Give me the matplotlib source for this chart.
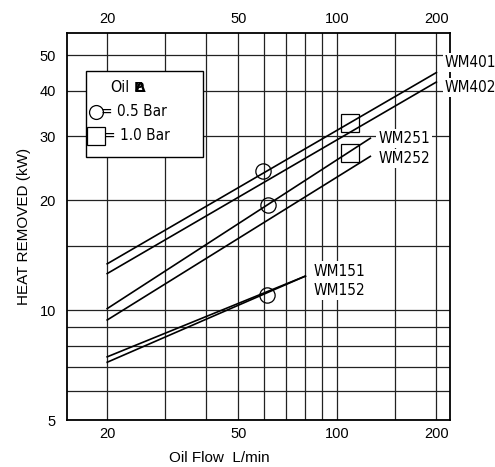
import matplotlib
matplotlib.use("Agg")
import matplotlib.pyplot as plt
from matplotlib import font_manager
from matplotlib.ticker import FixedLocator, NullFormatter, FixedFormatter

plt.rcParams["font.family"] = ["Liberation Sans", "DejaVu Sans"]

# the original uses a condensed grotesque; take a narrow face if one exists
_fonts = font_manager.fontManager.ttflist
if any(f.name == "Liberation Sans Narrow" for f in _fonts):
    NARROW = dict(family=["Liberation Sans Narrow", "DejaVu Sans"], stretch="normal")
elif any(f.name == "DejaVu Sans" and f.stretch == "condensed" for f in _fonts):
    NARROW = dict(family=["DejaVu Sans"], stretch="condensed")
else:
    NARROW = dict(family=["Liberation Sans", "DejaVu Sans"], stretch="normal")

# Oil flow (L/min) vs heat removed (kW)
models = ["WM401", "WM402", "WM251", "WM252", "WM151", "WM152"]
flow = {
    "WM401": [20, 200],
    "WM402": [20, 200],
    "WM251": [20, 126],
    "WM252": [20, 126],
    "WM151": [20, 80],
    "WM152": [20, 80],
}
heat = {
    "WM401": [13.4, 44.8],
    "WM402": [12.6, 42.2],
    "WM251": [10.1, 29.6],
    "WM252": [9.4, 26.4],
    "WM151": [7.45, 12.4],
    "WM152": [7.2, 12.4],
}

# pressure drop markers
flow_05bar = [59.6, 61.8, 61.1]
heat_05bar = [24.1, 19.4, 11.0]
flow_10bar = [109, 109]
heat_10bar = [32.5, 27.0]

x_grid = [20, 30, 40, 50, 60, 70, 80, 90, 100, 150, 200]
x_labels = [20, 50, 100, 200]
y_grid = [5, 6, 7, 8, 9, 10, 15, 20, 30, 40, 50]
y_labels = [5, 10, 20, 30, 40, 50]

fig = plt.figure(figsize=(4.95, 4.67), dpi=100)
ax = fig.add_axes([0.1354, 0.1006, 0.9091 - 0.1354, 0.9293 - 0.1006])
ax.set_xscale("log")
ax.set_yscale("log")
ax.set_xlim(15.1, 220)
ax.set_ylim(5, 57.5)

ax.xaxis.set_major_locator(FixedLocator(x_labels))
ax.xaxis.set_major_formatter(FixedFormatter([str(v) for v in x_labels]))
ax.xaxis.set_minor_locator(FixedLocator(x_grid))
ax.xaxis.set_minor_formatter(NullFormatter())
ax.yaxis.set_major_locator(FixedLocator(y_labels))
ax.yaxis.set_major_formatter(FixedFormatter([str(v) for v in y_labels]))
ax.yaxis.set_minor_locator(FixedLocator(y_grid))
ax.yaxis.set_minor_formatter(NullFormatter())
ax.tick_params(which="both", length=0, labelsize=10.5, top=True, labeltop=True)
ax.tick_params(axis="x", pad=5)
ax.tick_params(axis="y", pad=8)
ax.grid(True, which="both", color="#222222", lw=0.9)
for s in ax.spines.values():
    s.set_linewidth(1.3)

for m in models:
    ax.plot(flow[m], heat[m], color="black", lw=1.2, zorder=3)

ax.plot(flow_05bar, heat_05bar, ls="none", marker="o", ms=11, mfc="none",
        mec="black", mew=0.9, zorder=4)
ax.plot(flow_10bar, heat_10bar, ls="none", marker="s", ms=13, mfc="none",
        mec="black", mew=0.9, zorder=4)

box = dict(facecolor="white", edgecolor="none", pad=1.5)
label_pos = {
    "WM401": (212, 47.8),
    "WM402": (212, 40.8),
    "WM251": (133, 29.6),
    "WM252": (133, 26.1),
    "WM151": (84.6, 12.8),
    "WM152": (84.6, 11.3),
}
for m in models:
    ax.text(*label_pos[m], m, fontsize=11, va="center", ha="left",
            bbox=box, zorder=5, clip_on=False, **NARROW)

# legend box
tr = ax.transAxes
ax.add_patch(plt.Rectangle((0.0488, 0.6796), 0.3054, 0.223, transform=tr,
                           facecolor="white", edgecolor="black", lw=1.0,
                           zorder=5))
ax.text(0.112, 0.858, "Oil", fontsize=11.5, va="center", transform=tr,
        zorder=6, **NARROW)
# pressure drop sign (Δ and P printed over each other in the original)
ax.text(0.176, 0.858, r"$\mathbf{\Delta}\!\!\!\!\!\mathbf{P}$", fontsize=10,
        va="center", transform=tr, zorder=6)
ax.plot([0.0757], [0.797], marker="o", ms=10, mfc="white", mec="black",
        mew=0.9, transform=tr, zorder=6, clip_on=False)
ax.text(0.088, 0.797, "= 0.5 Bar", fontsize=11, va="center", transform=tr,
        zorder=6, **NARROW)
ax.plot([0.0757], [0.735], marker="s", ms=13, mfc="white", mec="black",
        mew=0.9, transform=tr, zorder=6, clip_on=False)
ax.text(0.097, 0.735, "= 1.0 Bar", fontsize=11, va="center", transform=tr,
        zorder=6, **NARROW)

ax.set_xlabel("Oil Flow  L/min", fontsize=11, labelpad=4)
ax.xaxis.set_label_coords(0.397, -0.08)
ax.set_ylabel("HEAT REMOVED (kW)", fontsize=11, labelpad=6)

fig.savefig("out.png", dpi=100)
